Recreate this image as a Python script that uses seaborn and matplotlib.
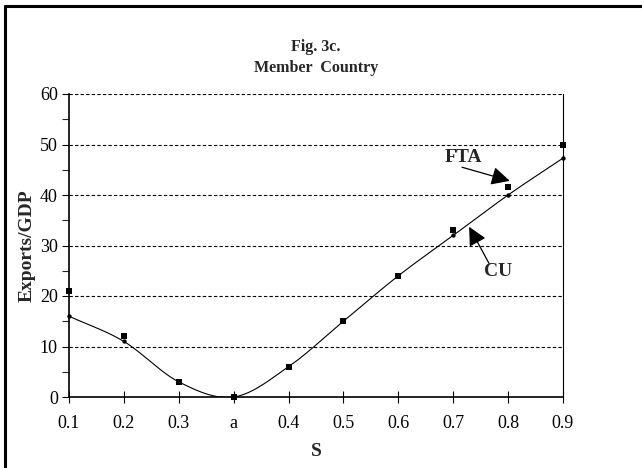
import numpy as np
import pandas as pd
import matplotlib
matplotlib.use("Agg")
import matplotlib.pyplot as plt
from matplotlib.lines import Line2D
import seaborn as sns

categories = ["0.1", "0.2", "0.3", "a", "0.4", "0.5", "0.6", "0.7", "0.8", "0.9"]
fta = [21, 12, 3, 0, 6, 15, 24, 33, 41.5, 50]
cu = [16, 11, 3, 0, 6, 15, 24, 32, 40, 47.3]
y_ticks = [0, 10, 20, 30, 40, 50, 60]

sns.set_theme(style="white")
plt.rcParams["font.family"] = ["Liberation Serif", "DejaVu Serif"]

fig = plt.figure(figsize=(6.42, 4.68), dpi=100)
ax = fig.add_axes([69 / 642, 1 - 397 / 468, (563 - 69) / 642, (397 - 94) / 468])

idx = np.arange(len(categories))
df = pd.DataFrame({"i": idx, "FTA": fta, "CU": cu})

# Excel-like smoothed line (Catmull-Rom) through the CU values
def smooth(xs, ys, n=30):
    xs = np.asarray(xs, float); ys = np.asarray(ys, float)
    px = np.concatenate([[2 * xs[0] - xs[1]], xs, [2 * xs[-1] - xs[-2]]])
    py = np.concatenate([[2 * ys[0] - ys[1]], ys, [2 * ys[-1] - ys[-2]]])
    ox, oy = [], []
    for k in range(1, len(px) - 2):
        t = np.linspace(0, 1, n, endpoint=False)
        for P, out in ((px, ox), (py, oy)):
            p0, p1, p2, p3 = P[k - 1], P[k], P[k + 1], P[k + 2]
            out.extend(0.5 * ((2 * p1) + (-p0 + p2) * t + (2 * p0 - 5 * p1 + 4 * p2 - p3) * t ** 2
                              + (-p0 + 3 * p1 - 3 * p2 + p3) * t ** 3))
    ox.append(xs[-1]); oy.append(ys[-1])
    return np.array(ox), np.array(oy)

sx, sy = smooth(df["i"], df["CU"])
sns.lineplot(x=sx, y=sy, ax=ax, color="black", linewidth=0.8, sort=False, estimator=None)
sns.scatterplot(data=df, x="i", y="CU", ax=ax, color="black", marker="o", s=10,
                edgecolor="black", linewidth=0, zorder=4, clip_on=False)
sns.scatterplot(data=df, x="i", y="FTA", ax=ax, color="black", marker="s", s=22,
                edgecolor="black", linewidth=0, zorder=5, clip_on=False)

ax.set_xlim(0, len(categories) - 1)
ax.set_ylim(0, 60)
ax.set_xticks(idx)
ax.set_xticklabels(categories)
ax.set_yticks(y_ticks)
ax.set_yticks(np.arange(5, 60, 10), minor=True)
ax.tick_params(axis="x", which="major", direction="inout", length=8, width=0.8,
               labelsize=13, pad=9, colors="black", bottom=True)
ax.tick_params(axis="y", which="major", direction="out", length=5, width=0.8,
               labelsize=13, pad=3, colors="black", left=True)
ax.tick_params(axis="y", which="minor", direction="out", length=5, width=0.8, left=True)

for v in y_ticks[1:]:
    ax.axhline(v, color="black", linestyle=(0, (3, 2)), linewidth=0.8, zorder=1)

for side in ["left", "bottom"]:
    ax.spines[side].set_color("black")
    ax.spines[side].set_linewidth(1.2)
ax.spines["right"].set_color("black")
ax.spines["right"].set_linewidth(0.8)
ax.spines["top"].set_visible(False)

ax.set_xlabel("S", fontsize=14, fontweight="bold", labelpad=8)
ax.set_ylabel("Exports/GDP", fontsize=14, fontweight="bold", labelpad=3)
ax.set_title("Fig. 3c.\nMember  Country", fontsize=11.5, fontweight="bold", pad=16,
             linespacing=1.4)

arrow = dict(arrowstyle="-|>,head_length=0.8,head_width=0.4", color="black",
             lw=0.9, shrinkA=0, shrinkB=0, mutation_scale=14)
ax.text(7.18, 47.5, "FTA", fontsize=14, fontweight="bold", ha="center", va="center")
ax.annotate("", xy=(8.03, 42.8), xytext=(7.16, 45.5), arrowprops=arrow)
ax.text(7.81, 24.8, "CU", fontsize=14, fontweight="bold", ha="center", va="center")
ax.annotate("", xy=(7.29, 33.7), xytext=(7.65, 26.5), arrowprops=arrow)

# outer frame (top and left edges)
fig.add_artist(Line2D([5 / 642, 1], [1 - 6 / 468, 1 - 6 / 468], color="black", lw=2.2,
                      transform=fig.transFigure))
fig.add_artist(Line2D([5 / 642, 5 / 642], [0, 1 - 6 / 468], color="black", lw=2.2,
                      transform=fig.transFigure))

fig.savefig("out.png", dpi=100)
